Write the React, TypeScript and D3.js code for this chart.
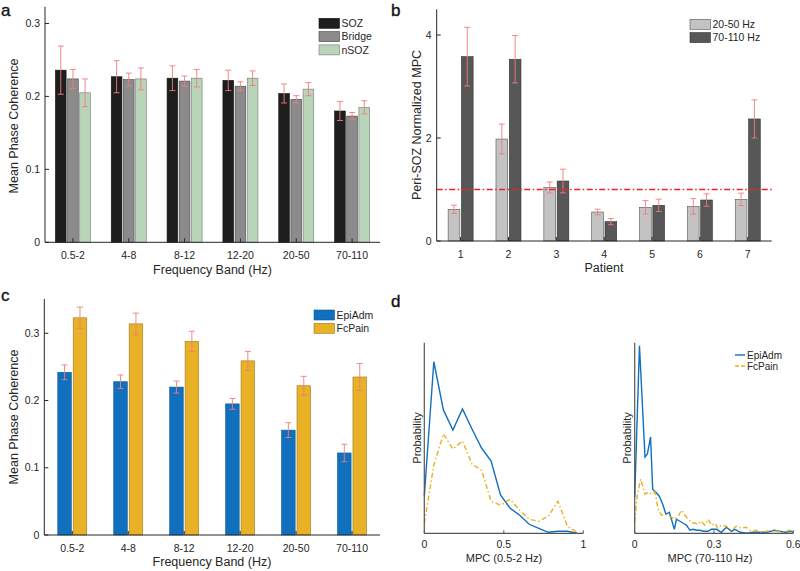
import React from 'react';
import * as d3 from 'd3';

// panel a
const bands = ['0.5-2', '4-8', '8-12', '12-20', '20-50', '70-110'];
const sozMean = [0.236, 0.227, 0.225, 0.222, 0.204, 0.180];
const sozErr = [0.033, 0.022, 0.017, 0.014, 0.013, 0.013];
const bridgeMean = [0.224, 0.223, 0.221, 0.214, 0.196, 0.173];
const bridgeErr = [0.013, 0.009, 0.007, 0.006, 0.005, 0.005];
const nsozMean = [0.205, 0.224, 0.225, 0.225, 0.210, 0.185];
const nsozErr = [0.019, 0.015, 0.012, 0.010, 0.009, 0.009];
const aTicks = [0, 0.1, 0.2, 0.3];

// panel b
const patients = ['1', '2', '3', '4', '5', '6', '7'];
const lowMean = [0.615, 1.98, 1.04, 0.563, 0.654, 0.673, 0.809];
const lowErr = [0.08, 0.29, 0.107, 0.055, 0.13, 0.15, 0.12];
const highMean = [3.58, 3.53, 1.165, 0.375, 0.693, 0.796, 2.37];
const highErr = [0.57, 0.46, 0.23, 0.06, 0.12, 0.12, 0.37];
const bTicks = [0, 2, 4];

// panel c
const epiMean = [0.242, 0.228, 0.220, 0.195, 0.156, 0.122];
const epiErr = [0.011, 0.010, 0.009, 0.008, 0.011, 0.013];
const fcMean = [0.323, 0.314, 0.288, 0.259, 0.222, 0.235];
const fcErr = [0.016, 0.016, 0.015, 0.014, 0.014, 0.020];
const cTicks = [0, 0.1, 0.2, 0.3];

// panel d, left (0.5-2 Hz)
const lowX = [0, 0.06, 0.12, 0.18, 0.24, 0.30, 0.36, 0.42, 0.48, 0.54, 0.60, 0.66, 0.72, 0.78, 0.84, 0.90, 0.96];
const epiLow = [0.037, 0.171, 0.123, 0.103, 0.124, 0.104, 0.085, 0.072, 0.038, 0.025, 0.018, 0.009, 0.005, 0.001, 0.002, 0.002, 0];
const fcLow = [0.010, 0.068, 0.099, 0.084, 0.092, 0.069, 0.063, 0.032, 0.028, 0.034, 0.023, 0.014, 0.012, 0.017, 0.032, 0.007, 0.001];
const lowTicks = [0, 0.5, 1];

// panel d, right (70-110 Hz)
const epiHighX = [0, 0.018, 0.039, 0.048, 0.060, 0.068, 0.080, 0.093, 0.106, 0.118, 0.131, 0.140, 0.150, 0.158, 0.171, 0.184, 0.196, 0.209, 0.221, 0.234, 0.246, 0.260, 0.277, 0.290, 0.309, 0.328, 0.347, 0.366, 0.379, 0.400, 0.425, 0.448, 0.470, 0.500, 0.529, 0.548, 0.570, 0.592, 0.600];
const epiHigh = [0.036, 0.187, 0.076, 0.079, 0.096, 0.044, 0.041, 0.037, 0.029, 0.019, 0.021, 0.013, 0.004, 0.014, 0.012, 0.010, 0.008, 0.003, 0.004, 0.003, 0.003, 0.002, 0.002, 0.004, 0.004, 0.001, 0.006, 0.002, 0.004, 0.001, 0.000, 0.001, 0.001, 0.001, 0.003, 0.002, 0.001, 0.002, 0.001];
const fcHighX = [0, 0.010, 0.023, 0.039, 0.052, 0.064, 0.077, 0.089, 0.102, 0.115, 0.127, 0.140, 0.152, 0.165, 0.177, 0.190, 0.203, 0.215, 0.228, 0.240, 0.252, 0.265, 0.278, 0.290, 0.303, 0.315, 0.328, 0.347, 0.366, 0.384, 0.403, 0.422, 0.440, 0.460, 0.478, 0.497, 0.522, 0.540, 0.560, 0.585, 0.600];
const fcHigh = [0.011, 0.039, 0.054, 0.039, 0.041, 0.039, 0.041, 0.023, 0.018, 0.019, 0.018, 0.016, 0.014, 0.017, 0.023, 0.018, 0.014, 0.011, 0.010, 0.009, 0.012, 0.008, 0.014, 0.008, 0.010, 0.005, 0.008, 0.007, 0.003, 0.007, 0.005, 0.006, 0.002, 0.003, 0.001, 0.002, 0.003, 0.002, 0.001, 0.003, 0.002];
const highTicks = [0, 0.3, 0.6];

const FONT = '"Liberation Sans", Arial, Helvetica, sans-serif';
const INK = '#262626';
const ERR = '#f27c7c';
const BLUE = '#1170bd';
const GOLD = '#e9b125';

const fmt = (t: number) => (t === 0 ? '0' : String(t));

type Series = { name: string; fill: string; edge: string; mean: number[]; err: number[] };

function BarPanel(props: {
  cats: string[]; series: Series[]; left: number; right: number; top: number; base: number;
  yMax: number; yTicks: number[]; groupW: number;
}) {
  const { cats, series, left, right, top, base, yMax, yTicks, groupW } = props;
  const x = d3.scaleBand().domain(cats).range([left, right]);
  const y = d3.scaleLinear().domain([0, yMax]).range([base, top]);
  const inner = d3.scaleBand().domain(series.map(s => s.name)).range([0, groupW]).paddingInner(0.12);
  const off = (x.bandwidth() - groupW) / 2;
  const bw = inner.bandwidth();
  return (
    <g>
      {series.map(s => cats.map((c, i) => {
        const bx = (x(c) as number) + off + (inner(s.name) as number);
        return (
          <rect key={s.name + c} x={bx} y={y(s.mean[i])} width={bw} height={base - y(s.mean[i])}
            fill={s.fill} stroke={s.edge} strokeWidth={0.6} />
        );
      }))}
      {series.map(s => cats.map((c, i) => {
        const cx = (x(c) as number) + off + (inner(s.name) as number) + bw / 2;
        const y1 = y(s.mean[i] + s.err[i]);
        const y2 = y(s.mean[i] - s.err[i]);
        return (
          <g key={'e' + s.name + c} stroke={ERR} strokeWidth={0.9}>
            <line x1={cx} x2={cx} y1={y1} y2={y2} />
            <line x1={cx - 3} x2={cx + 3} y1={y1} y2={y1} />
            <line x1={cx - 3} x2={cx + 3} y1={y2} y2={y2} />
          </g>
        );
      }))}
      <line x1={left} x2={right} y1={base} y2={base} stroke={INK} strokeWidth={1} />
      <line x1={left} x2={left} y1={top} y2={base} stroke={INK} strokeWidth={1} />
      {yTicks.map(t => (
        <g key={'y' + t}>
          <line x1={left} x2={left + 4} y1={y(t)} y2={y(t)} stroke={INK} />
          <text x={left - 5} y={y(t)} dy="0.35em" textAnchor="end" fontSize={10.5} fill={INK}>{fmt(t)}</text>
        </g>
      ))}
      {cats.map(c => {
        const cx = (x(c) as number) + x.bandwidth() / 2;
        return (
          <g key={'x' + c}>
            <line x1={cx} x2={cx} y1={base} y2={base - 4} stroke={INK} />
            <text x={cx} y={base + 16.5} textAnchor="middle" fontSize={10.5} fill={INK}>{c}</text>
          </g>
        );
      })}
    </g>
  );
}

function LinePanel(props: {
  left: number; right: number; top: number; base: number; xMax: number; ticks: number[];
  curves: { xs: number[]; ys: number[]; color: string; dash?: string }[];
}) {
  const { left, right, top, base, xMax, ticks, curves } = props;
  const x = d3.scaleLinear().domain([0, xMax]).range([left, right]);
  const y = d3.scaleLinear().domain([0, 0.19]).range([base, top]);
  const line = d3.line<[number, number]>().x(d => x(d[0])).y(d => y(d[1]));
  return (
    <g>
      {curves.map((c, k) => (
        <path key={k} d={line(c.xs.map((v, i) => [v, c.ys[i]] as [number, number])) || ''}
          fill="none" stroke={c.color} strokeWidth={1.4} strokeDasharray={c.dash} />
      ))}
      <line x1={left} x2={right} y1={base} y2={base} stroke="#555" strokeWidth={1.2} />
      <line x1={left} x2={left} y1={top} y2={base} stroke="#555" strokeWidth={1.2} />
      {ticks.map(t => (
        <g key={t}>
          <line x1={x(t)} x2={x(t)} y1={base} y2={base - 3} stroke="#555" />
          <text x={x(t)} y={base + 15} textAnchor="middle" fontSize={10.5} fill={INK}>{fmt(t)}</text>
        </g>
      ))}
    </g>
  );
}

function Legend(props: { x: number; y: number; items: { name: string; fill: string; edge: string }[] }) {
  return (
    <g>
      {props.items.map((it, i) => (
        <g key={it.name}>
          <rect x={props.x} y={props.y + i * 13.3} width={20.5} height={10} fill={it.fill} stroke={it.edge} strokeWidth={0.6} />
          <text x={props.x + 22.5} y={props.y + i * 13.3 + 5} dy="0.35em" fontSize={10.5} fill={INK}>{it.name}</text>
        </g>
      ))}
    </g>
  );
}

const rotLabel = (x: number, y: number, text: string, size = 12.5) => (
  <text transform={`translate(${x},${y}) rotate(-90)`} textAnchor="middle" dy="0.35em" fontSize={size} fill={INK}>{text}</text>
);

export default function App() {
  const aSeries: Series[] = [
    { name: 'SOZ', fill: '#1e1e1e', edge: '#111', mean: sozMean, err: sozErr },
    { name: 'Bridge', fill: '#8b8b8b', edge: '#444', mean: bridgeMean, err: bridgeErr },
    { name: 'nSOZ', fill: '#b8d4b9', edge: '#777', mean: nsozMean, err: nsozErr },
  ];
  const bSeries: Series[] = [
    { name: '20-50 Hz', fill: '#c3c3c3', edge: '#555', mean: lowMean, err: lowErr },
    { name: '70-110 Hz', fill: '#575757', edge: '#333', mean: highMean, err: highErr },
  ];
  const cSeries: Series[] = [
    { name: 'EpiAdm', fill: BLUE, edge: '#0b5c9c', mean: epiMean, err: epiErr },
    { name: 'FcPain', fill: GOLD, edge: '#9a7a2a', mean: fcMean, err: fcErr },
  ];
  const yB = d3.scaleLinear().domain([0, 4.5]).range([241, 9.3]);
  const dash = '5,2.5,1.5,2.5';
  return (
    <svg width={800} height={571} style={{ position: 'absolute', left: 0, top: 0, background: '#fff' }} fontFamily={FONT}>
      <rect width={800} height={571} fill="#fff" />
      {/* panel letters */}
      <g fontSize={17} fill="#111" stroke="#111" strokeWidth={0.35}>
        <text x={1} y={16}>a</text>
        <text x={391} y={16}>b</text>
        <text x={1} y={301}>c</text>
        <text x={391} y={307}>d</text>
      </g>

      {/* a */}
      <BarPanel cats={bands} series={aSeries} left={45} right={380} top={6.7} base={242.3} yMax={0.323} yTicks={aTicks} groupW={35} />
      <Legend x={319} y={18.3} items={aSeries} />
      {rotLabel(14, 126, 'Mean Phase Coherence')}
      <text x={212.5} y={274} textAnchor="middle" fontSize={12.5} fill={INK}>Frequency Band (Hz)</text>

      {/* b */}
      <BarPanel cats={patients} series={bSeries} left={436.7} right={771.7} top={9.3} base={241} yMax={4.5} yTicks={bTicks} groupW={25} />
      <line x1={436.7} x2={771.7} y1={yB(1)} y2={yB(1)} stroke="#ee2024" strokeWidth={1.5} strokeDasharray="6,2.5,1.5,2.5" />
      <Legend x={690} y={19.3} items={bSeries} />
      {rotLabel(417, 125, 'Peri-SOZ Normalized MPC')}
      <text x={604} y={272} textAnchor="middle" fontSize={12.5} fill={INK}>Patient</text>

      {/* c */}
      <BarPanel cats={bands} series={cSeries} left={44.3} right={380} top={299} base={535} yMax={0.351} yTicks={cTicks} groupW={29} />
      <Legend x={314} y={310} items={cSeries} />
      {rotLabel(14, 417, 'Mean Phase Coherence')}
      <text x={212} y={566} textAnchor="middle" fontSize={12.5} fill={INK}>Frequency Band (Hz)</text>

      {/* d */}
      <LinePanel left={424.3} right={583.3} top={342.7} base={533.3} xMax={1} ticks={lowTicks}
        curves={[{ xs: lowX, ys: epiLow, color: BLUE }, { xs: lowX, ys: fcLow, color: GOLD, dash }]} />
      {rotLabel(416.7, 438, 'Probability', 11)}
      <text x={504} y={562} textAnchor="middle" fontSize={11} fill={INK}>MPC (0.5-2 Hz)</text>

      <LinePanel left={634.7} right={793.3} top={342.7} base={533.3} xMax={0.6} ticks={highTicks}
        curves={[{ xs: epiHighX, ys: epiHigh, color: BLUE }, { xs: fcHighX, ys: fcHigh, color: GOLD, dash }]} />
      {rotLabel(626.7, 438, 'Probability', 11)}
      <text x={710} y={562} textAnchor="middle" fontSize={11} fill={INK}>MPC (70-110 Hz)</text>

      <g fontSize={10} fill={INK}>
        <line x1={735} x2={745} y1={355} y2={355} stroke={BLUE} strokeWidth={1.4} />
        <text x={747} y={355} dy="0.35em">EpiAdm</text>
        <line x1={735} x2={745} y1={366} y2={366} stroke={GOLD} strokeWidth={1.4} strokeDasharray="4,2" />
        <text x={747} y={366} dy="0.35em">FcPain</text>
      </g>
    </svg>
  );
}
